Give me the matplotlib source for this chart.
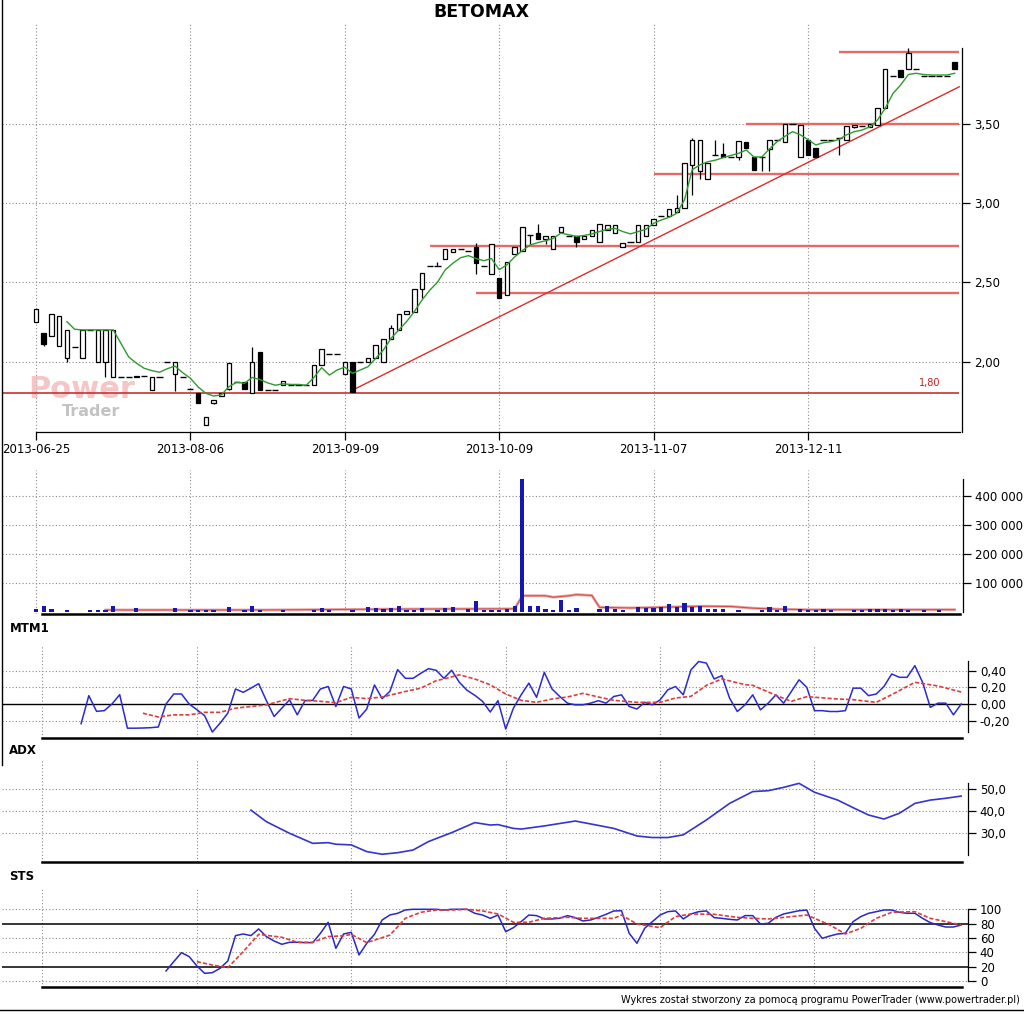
import matplotlib
matplotlib.use('Agg')
import matplotlib.pyplot as plt
from matplotlib.lines import Line2D

plt.rcParams['font.family'] = ['DejaVu Sans']

# ---------------- DATA ----------------
date_idx = [0, 20, 40, 60, 80, 100]
date_labels = ['2013-06-25', '2013-08-06', '2013-09-09', '2013-10-09', '2013-11-07', '2013-12-11']

opens = [2.25, 2.18, 2.16, 2.10, 2.02, 2.09, 2.02, 2.20, 2.00, 2.00,
         1.90, 1.90, 1.90, 1.91, 1.91, 1.82, 1.90, 2.00, 1.92, 1.90,
         1.83, 1.80, 1.60, 1.74, 1.78, 1.83, 1.87, 1.87, 1.80, 2.06,
         1.82, 1.82, 1.85, 1.85, 1.85, 1.85, 1.85, 1.98, 2.05, 2.05,
         1.92, 2.00, 2.00, 2.00, 2.02, 2.00, 2.14, 2.20, 2.30, 2.31,
         2.46, 2.60, 2.60, 2.65, 2.69, 2.71, 2.70, 2.72, 2.60, 2.55,
         2.53, 2.42, 2.68, 2.70, 2.80, 2.81, 2.77, 2.71, 2.82, 2.79,
         2.79, 2.77, 2.79, 2.756, 2.83, 2.81, 2.72, 2.756, 2.756, 2.79,
         2.86, 2.915, 2.92, 2.945, 2.967, 3.24, 3.20, 3.15, 3.30, 3.31,
         3.29, 3.29, 3.386, 3.29, 3.29, 3.34, 3.40, 3.387, 3.50, 3.29,
         3.40, 3.345, 3.395, 3.40, 3.41, 3.397, 3.48, 3.487, 3.48, 3.49,
         3.60, 3.80, 3.839, 3.843, 3.843, 3.80, 3.80, 3.80, 3.80, 3.887]
highs = [2.33, 2.18, 2.30, 2.29, 2.20, 2.09, 2.20, 2.20, 2.20, 2.20,
         2.20, 1.90, 1.90, 1.91, 1.91, 1.90, 1.90, 2.00, 2.00, 1.90,
         1.83, 1.80, 1.65, 1.76, 1.80, 1.99, 1.87, 1.87, 2.09, 2.06,
         1.82, 1.82, 1.88, 1.85, 1.85, 1.85, 1.98, 2.08, 2.05, 2.05,
         2.00, 2.00, 2.00, 2.02, 2.105, 2.14, 2.23, 2.30, 2.32, 2.46,
         2.56, 2.60, 2.63, 2.71, 2.71, 2.71, 2.70, 2.75, 2.60, 2.74,
         2.53, 2.63, 2.72, 2.85, 2.80, 2.87, 2.79, 2.79, 2.85, 2.79,
         2.79, 2.79, 2.83, 2.866, 2.86, 2.86, 2.746, 2.756, 2.86, 2.86,
         2.90, 2.915, 2.96, 3.05, 3.25, 3.41, 3.40, 3.25, 3.40, 3.38,
         3.29, 3.39, 3.386, 3.29, 3.29, 3.40, 3.40, 3.496, 3.50, 3.49,
         3.40, 3.345, 3.395, 3.40, 3.41, 3.487, 3.49, 3.487, 3.50, 3.60,
         3.843, 3.80, 3.839, 3.975, 3.843, 3.80, 3.80, 3.80, 3.80, 3.887]
lows = [2.25, 2.10, 2.16, 2.10, 2.00, 2.09, 2.02, 2.20, 2.00, 1.90,
        1.90, 1.90, 1.90, 1.90, 1.91, 1.82, 1.90, 2.00, 1.815, 1.90,
        1.83, 1.74, 1.60, 1.73, 1.78, 1.82, 1.87, 1.83, 1.80, 1.82,
        1.82, 1.82, 1.85, 1.85, 1.85, 1.85, 1.85, 1.98, 2.05, 2.05,
        1.92, 1.81, 2.00, 2.00, 2.02, 2.00, 2.14, 2.20, 2.30, 2.31,
        2.40, 2.60, 2.60, 2.65, 2.69, 2.71, 2.70, 2.55, 2.60, 2.55,
        2.40, 2.42, 2.68, 2.70, 2.74, 2.77, 2.74, 2.71, 2.82, 2.79,
        2.72, 2.77, 2.79, 2.756, 2.83, 2.81, 2.72, 2.756, 2.756, 2.79,
        2.86, 2.915, 2.92, 2.945, 2.967, 3.05, 3.15, 3.15, 3.30, 3.29,
        3.29, 3.27, 3.345, 3.21, 3.20, 3.20, 3.40, 3.387, 3.50, 3.29,
        3.30, 3.29, 3.395, 3.40, 3.30, 3.397, 3.47, 3.487, 3.48, 3.49,
        3.60, 3.80, 3.796, 3.843, 3.843, 3.80, 3.80, 3.80, 3.80, 3.843]
closes = [2.33, 2.11, 2.30, 2.29, 2.20, 2.09, 2.20, 2.20, 2.20, 2.20,
          2.20, 1.90, 1.90, 1.90, 1.91, 1.90, 1.90, 2.00, 2.00, 1.90,
          1.83, 1.74, 1.65, 1.76, 1.80, 1.99, 1.87, 1.83, 2.00, 1.82,
          1.82, 1.82, 1.88, 1.85, 1.85, 1.85, 1.98, 2.08, 2.05, 2.05,
          2.00, 1.81, 2.00, 2.02, 2.105, 2.14, 2.21, 2.30, 2.32, 2.46,
          2.56, 2.60, 2.60, 2.71, 2.71, 2.71, 2.70, 2.62, 2.60, 2.74,
          2.40, 2.63, 2.72, 2.85, 2.80, 2.77, 2.79, 2.79, 2.85, 2.79,
          2.756, 2.79, 2.83, 2.866, 2.86, 2.86, 2.746, 2.756, 2.86, 2.86,
          2.90, 2.915, 2.96, 2.967, 3.25, 3.40, 3.40, 3.25, 3.30, 3.29,
          3.29, 3.39, 3.345, 3.21, 3.29, 3.40, 3.40, 3.496, 3.50, 3.49,
          3.30, 3.29, 3.395, 3.40, 3.41, 3.487, 3.49, 3.487, 3.50, 3.60,
          3.843, 3.80, 3.796, 3.948, 3.843, 3.80, 3.80, 3.80, 3.80, 3.843]

ma_start = 4
ma_vals = [2.252, 2.204, 2.20, 2.20, 2.20, 2.20, 2.20, 2.115, 2.03, 1.99,
           1.958, 1.943, 1.933, 1.955, 1.972, 1.93, 1.895, 1.84, 1.80, 1.783,
           1.79, 1.842, 1.87, 1.863, 1.90, 1.887, 1.866, 1.851, 1.86, 1.856,
           1.856, 1.851, 1.90, 1.962, 1.915, 1.947, 1.965, 1.926, 1.947, 1.968,
           2.02, 2.073, 2.147, 2.20, 2.252, 2.315, 2.388, 2.45, 2.50, 2.578,
           2.62, 2.655, 2.668, 2.65, 2.636, 2.65, 2.58, 2.61, 2.66, 2.70,
           2.735, 2.75, 2.762, 2.777, 2.81, 2.80, 2.79, 2.795, 2.805, 2.82,
           2.834, 2.84, 2.82, 2.805, 2.82, 2.834, 2.872, 2.893, 2.91, 2.935,
           3.02, 3.21, 3.24, 3.26, 3.27, 3.286, 3.30, 3.313, 3.334, 3.29,
           3.29, 3.34, 3.387, 3.42, 3.45, 3.43, 3.40, 3.366, 3.38, 3.387,
           3.40, 3.43, 3.45, 3.46, 3.48, 3.523, 3.597, 3.69, 3.744, 3.81,
           3.818, 3.81, 3.807, 3.807, 3.807, 3.818]

level_vals = [1.80, 2.43, 2.73, 3.18, 3.50, 3.95]
level_from = [-4.7, 57, 51, 80, 92, 104]
level_to = 119.5
trend_idx = [41, 119.6]
trend_vals = [1.82, 3.733]

vol_idx = [0, 1, 2, 4, 7, 8, 9, 10, 13, 18,
           20, 21, 22, 23, 25, 27, 28, 29, 32, 36,
           37, 38, 41, 43, 44, 45, 46, 47, 48, 49,
           50, 52, 53, 54, 56, 57, 58, 59, 60, 61,
           62, 63, 64, 65, 66, 67, 68, 69, 70, 73,
           74, 75, 76, 78, 79, 80, 81, 82, 83, 84,
           85, 86, 87, 88, 89, 91, 94, 95, 96, 97,
           99, 100, 101, 102, 103, 106, 107, 108, 109, 110,
           111, 112, 113, 115, 117]
vol_k = [9, 20, 9, 8, 8, 8, 8, 20, 13, 13,
         8, 8, 8, 8, 17, 8, 20, 8, 8, 8,
         13, 8, 8, 17, 13, 10, 13, 20, 8, 8,
         13, 8, 13, 17, 10, 37, 8, 8, 8, 10,
         20, 460, 22, 20, 10, 8, 40, 8, 14, 10,
         20, 10, 8, 16, 14, 14, 17, 28, 16, 31,
         17, 22, 10, 10, 10, 8, 8, 16, 8, 20,
         10, 8, 8, 10, 8, 8, 8, 10, 10, 10,
         8, 10, 8, 8, 8]
vol_ma_idx = [9, 30, 46, 62, 63, 66, 67, 69, 70, 72, 73, 77, 82, 86, 90, 93, 96, 100, 119]
vol_ma_k = [7, 7, 10, 11, 56, 56, 51, 56, 60, 57, 16, 14, 17, 20, 19, 13, 10, 8, 8]
vol_ticks = [100000, 200000, 300000, 400000]

mtm_start = 5
mtm_vals = [-0.236, 0.10, -0.088, -0.08, 0.0, 0.112, -0.29, -0.29, -0.288, -0.284,
            -0.276, 0.0, 0.12, 0.12, 0.0, -0.068, -0.14, -0.336, -0.23, -0.11,
            0.18, 0.14, 0.19, 0.244, 0.04, -0.15, -0.05, 0.05, -0.13, 0.04,
            0.044, 0.18, 0.21, -0.03, 0.21, 0.18, -0.168, -0.06, 0.228, 0.064,
            0.152, 0.412, 0.308, 0.308, 0.368, 0.424, 0.404, 0.308, 0.404, 0.26,
            0.164, 0.104, 0.032, -0.096, 0.04, -0.30, -0.05, 0.11, 0.25, 0.08,
            0.38, 0.18, 0.09, 0.01, -0.01, -0.01, 0.01, 0.04, 0.01, 0.09,
            0.11, -0.03, -0.06, 0.02, -0.01, 0.05, 0.17, 0.21, 0.11, 0.41,
            0.51, 0.49, 0.30, 0.34, 0.07, -0.09, -0.01, 0.11, -0.07, 0.01,
            0.11, 0.01, 0.15, 0.29, 0.20, -0.08, -0.08, -0.09, -0.09, -0.08,
            0.19, 0.19, 0.10, 0.12, 0.21, 0.36, 0.32, 0.32, 0.46, 0.26,
            -0.04, 0.01, 0.01, -0.13, 0.0]
mtm_sig_idx = [13, 15, 17, 19, 21, 23, 25, 27, 29, 32, 34, 36, 38, 40, 42, 44, 47, 49,
               51, 52, 54, 56, 58, 60, 62, 64, 66, 68, 70, 72, 74, 77, 80, 82, 84, 86,
               88, 91, 92, 95, 97, 99, 103, 105, 108, 110, 113, 116, 119]
mtm_sig = [-0.11, -0.156, -0.13, -0.13, -0.10, -0.10, -0.05, -0.03, -0.01, 0.064, 0.044, 0.032,
           0.016, 0.08, 0.064, 0.084, 0.15, 0.19, 0.28, 0.30, 0.35, 0.30, 0.23, 0.12,
           0.044, 0.02, 0.06, 0.084, 0.128, 0.084, 0.044, 0.02, 0.02, 0.072, 0.092, 0.224,
           0.30, 0.232, 0.224, 0.104, 0.032, 0.088, 0.06, 0.052, 0.02, 0.112, 0.26, 0.216, 0.144]
mtm_ticks = [-0.20, 0.0, 0.20, 0.40]

adx_idx = [27, 29, 32, 35, 37, 38, 40, 42, 44, 46, 48, 50, 53, 56, 58, 59, 61, 62, 65, 69,
           71, 74, 77, 79, 81, 83, 86, 89, 92, 94, 96, 98, 100, 103, 105, 107, 109, 111,
           113, 115, 117, 119]
adx_vals = [40.4, 35.2, 30.0, 25.5, 25.8, 25.1, 24.8, 21.8, 20.6, 21.3, 22.5, 26.3, 30.3,
            34.8, 33.7, 33.9, 32.2, 31.9, 33.3, 35.5, 34.2, 32.2, 28.8, 28.1, 28.1, 29.3,
            36.0, 43.4, 48.7, 49.1, 50.6, 52.4, 48.4, 44.9, 41.5, 38.2, 36.4, 39.0, 43.4,
            44.9, 45.7, 46.7]
adx_ticks = [30, 40, 50]

sts_start = 16
sts_vals = [14, 27, 39.5, 34, 21, 10.7, 11.6, 17.7, 27.9, 63.3,
            65.6, 63.3, 72.6, 61.9, 55.8, 51.2, 54, 54, 53.5, 53.5,
            66.5, 81.9, 45.6, 65.6, 67.9, 36.3, 52.6, 65.1, 85.1, 92.1,
            94.4, 99.1, 100, 100, 100, 100, 99, 100, 100, 100,
            94.4, 92, 87.4, 92, 68.8, 74.4, 82.8, 92, 91.2, 86.5,
            86.5, 87.5, 91.2, 88.4, 83.7, 85.1, 88.8, 93, 97.7, 98,
            66.5, 52.6, 73.5, 82.8, 92, 96.7, 97.7, 86.5, 93.5, 96.7,
            97.7, 88.4, 87.4, 86, 85.1, 91.2, 91.2, 79.5, 80.5, 88.8,
            93.5, 95.8, 98, 99, 73.5, 59.5, 62.8, 65.6, 66.5, 82.8,
            89.8, 94.4, 96.7, 99, 99, 95.8, 94.4, 94.4, 87.4, 81.4,
            78.1, 75.3, 75.3, 78.1]
sts_sig_idx = [20, 22, 24, 26, 28, 31, 33, 35, 37, 39, 40, 42, 45, 47, 49, 51, 53, 55, 57, 59,
               61, 63, 65, 68, 70, 72, 74, 75, 77, 80, 82, 84, 87, 90, 92, 94, 97, 99, 102,
               104, 106, 108, 110, 113, 115, 117, 119]
sts_sig = [27, 22.3, 18.6, 41, 65, 61, 54, 54, 62, 63, 65, 53.5, 64, 87.4, 95.8, 99, 99, 100,
           97.7, 93.5, 81.9, 81.9, 87.4, 88.8, 87.4, 87.4, 87.4, 92, 79.5, 74.4, 89.8, 93.5,
           93, 88.8, 87.4, 86.5, 89.8, 92, 78.1, 65.6, 73.5, 87.4, 95.8, 96.7, 87.4, 82.8, 78.1]
sts_ticks = [0, 20, 40, 60, 80, 100]

# ---------------- LAYOUT ----------------
W, H, DPI = 1024, 1014, 100
fig = plt.figure(figsize=(W / DPI, H / DPI), dpi=DPI)
fig.patch.set_facecolor('white')

STEP = 7.72
MX0 = 36.0    # pixel of bar 0 (price & volume)
LX0 = 42.5    # pixel of bar 0 (indicator panels)
GRID = dict(color='#8a8a8a', lw=0.8, ls=(0, (1, 2)))
TFS = 8.5


def rect(x0, y0, x1, y1):
    return [x0 / W, 1 - y1 / H, (x1 - x0) / W, (y1 - y0) / H]


def px2v(y, yref, vref, ppu):
    return vref - (y - yref) / ppu


def base(ax, x0px, lpx, rpx, ylo, yhi, sp_lo, sp_hi, b_from, b_to, b_lw):
    ax.set_xlim((lpx - x0px) / STEP, (rpx - x0px) / STEP)
    ax.set_ylim(ylo, yhi)
    ax.set_facecolor('none')
    ax.spines['top'].set_visible(False)
    ax.spines['left'].set_visible(False)
    ax.spines['right'].set_bounds(sp_lo, sp_hi)
    ax.spines['right'].set_linewidth(0.9)
    ax.spines['bottom'].set_bounds((b_from - x0px) / STEP, (b_to - x0px) / STEP)
    ax.spines['bottom'].set_linewidth(b_lw)
    ax.yaxis.tick_right()
    ax.tick_params(axis='y', direction='out', length=5.5, width=0.9, labelsize=TFS, pad=3)
    for i in date_idx:
        ax.axvline(i, zorder=0, **GRID)


# ---- main price panel ----
K = 158.6
ax = fig.add_axes(rect(2, 22, 962, 432))
base(ax, MX0, 2, 962, px2v(432, 203, 3.0, K), px2v(22, 203, 3.0, K),
     px2v(432, 203, 3.0, K), px2v(48, 203, 3.0, K), MX0, 960, 0.9)
price_ticks = [2.0, 2.5, 3.0, 3.5]
ax.set_yticks(price_ticks)
ax.set_yticklabels([f'{v:.2f}'.replace('.', ',') for v in price_ticks])
for v in price_ticks:
    ax.axhline(v, zorder=0, **GRID)
ax.set_xticks(date_idx)
ax.set_xticklabels(date_labels, fontsize=TFS)
ax.tick_params(axis='x', direction='out', length=6, width=0.9, pad=2)

# support / resistance lines
for lv, fr in zip(level_vals, level_from):
    if lv == level_vals[0]:
        ax.hlines(lv, fr, level_to, color='#c83232', lw=1.2, zorder=2)
    else:
        ax.hlines(lv, fr, level_to, color='#e46a6a', lw=1.7, zorder=2)
ax.plot(trend_idx, trend_vals, color='#e02a2a', lw=1.0, zorder=2)
ax.text(level_to - 2.3, level_vals[0] + 0.035, '1,80', color='#c02020', fontsize=7,
        ha='right', va='bottom', zorder=5)

# candles
n = len(closes)
xs = list(range(n))
ax.vlines(xs, lows, highs, color='black', lw=0.9, zorder=3)
for i in xs:
    o, c = opens[i], closes[i]
    if abs(c - o) < 0.004:
        ax.hlines(c, i - 0.4, i + 0.4, color='black', lw=1.0, zorder=4)
    else:
        fc = 'white' if c > o else 'black'
        ax.bar(i, abs(c - o), bottom=min(o, c), width=0.58, color=fc,
               edgecolor='black', lw=0.9, zorder=4)

ax.plot(range(ma_start, ma_start + len(ma_vals)), ma_vals, color='#2f9a2f', lw=1.0, zorder=5)

# watermark
ax.text(28 / W, 1 - 398 / H, 'Power', transform=fig.transFigure, fontsize=22, fontweight='bold',
        color='#f3b4b4', alpha=0.75, ha='left', va='baseline', zorder=0.5)
ax.text(62 / W, 1 - 404 / H, 'Trader', transform=fig.transFigure, fontsize=11.5, fontweight='bold',
        color='#b4b4b4', alpha=0.8, ha='left', va='top', zorder=0.5)

# ---- volume panel ----
VK = 29.0 / 100000.0
axv = fig.add_axes(rect(2, 470, 963, 614))
base(axv, MX0, 2, 963, -2 / VK, (612 - 470) / VK, 0, (612 - 479) / VK, 42, 960, 1.8)
axv.set_xticks([])
axv.set_yticks(vol_ticks)
axv.set_yticklabels([f'{v:,}'.replace(',', ' ') for v in vol_ticks])
for v in vol_ticks:
    axv.axhline(v, zorder=0, **GRID)
axv.plot(vol_ma_idx, [v * 1000 for v in vol_ma_k], color='#eaa2a2', lw=2.0, zorder=3)
axv.plot(vol_ma_idx, [v * 1000 for v in vol_ma_k], color='#d04848', lw=0.7, zorder=3)
axv.bar(vol_idx, [v * 1000 for v in vol_k], width=0.55, color='#1616b0', zorder=4)

# ---- MTM panel ----
MK = 83.4
axm = fig.add_axes(rect(2, 645, 968, 738))
base(axm, LX0, 2, 968, px2v(738, 704, 0, MK), px2v(645, 704, 0, MK),
     px2v(732, 704, 0, MK), px2v(661, 704, 0, MK), 42, 962, 1.8)
axm.set_xticks([])
axm.set_yticks(mtm_ticks)
axm.set_yticklabels([f'{v:.2f}'.replace('.', ',') for v in mtm_ticks])
for v in mtm_ticks:
    if v == 0:
        axm.axhline(v, color='black', lw=1.0, zorder=1)
    else:
        axm.axhline(v, zorder=0, **GRID)
axm.plot(range(mtm_start, mtm_start + len(mtm_vals)), mtm_vals, color='#2a2ad2', lw=1.1, zorder=3)
axm.plot(mtm_sig_idx, mtm_sig, color='#e03c3c', lw=1.2, ls=(0, (2.5, 1.2)), zorder=4)

# ---- ADX panel ----
AK = 2.23
axa = fig.add_axes(rect(2, 760, 968, 862))
base(axa, LX0, 2, 968, px2v(862, 788.7, 50, AK), px2v(760, 788.7, 50, AK),
     px2v(855, 788.7, 50, AK), px2v(783, 788.7, 50, AK), 42, 962, 1.8)
axa.set_xticks([])
axa.set_yticks(adx_ticks)
axa.set_yticklabels([f'{v:.1f}'.replace('.', ',') for v in adx_ticks])
for v in adx_ticks:
    axa.axhline(v, zorder=0, **GRID)
axa.plot(adx_idx, adx_vals, color='#3434d0', lw=1.2, zorder=3)

# ---- STS panel ----
SK = 0.717
axs = fig.add_axes(rect(2, 888, 968, 987))
base(axs, LX0, 2, 968, px2v(987, 981, 0, SK), px2v(888, 981, 0, SK), 0, 100, 42, 962, 1.8)
axs.set_xticks([])
axs.set_yticks(sts_ticks)
axs.set_yticklabels([str(v) for v in sts_ticks])
for v in sts_ticks:
    if v in (20, 80):
        axs.axhline(v, color='black', lw=1.1, zorder=1)
    else:
        axs.axhline(v, zorder=0, **GRID)
axs.plot(range(sts_start, sts_start + len(sts_vals)), sts_vals, color='#2828c8', lw=1.1, zorder=3)
axs.plot(sts_sig_idx, sts_sig, color='#e03c3c', lw=1.2, ls=(0, (2.5, 1.2)), zorder=4)

# ---- texts & frame lines ----
fig.text(481 / W, 1 - 12 / H, 'BETOMAX', ha='center', va='center', fontsize=12.5, fontweight='bold')
fig.text(10 / W, 1 - 628 / H, 'MTM1', ha='left', va='center', fontsize=8.5, fontweight='bold')
fig.text(9 / W, 1 - 750 / H, 'ADX', ha='left', va='center', fontsize=8.5, fontweight='bold')
fig.text(9 / W, 1 - 876 / H, 'STS', ha='left', va='center', fontsize=8.5, fontweight='bold')
fig.text(1020 / W, 1 - 1000 / H,
         'Wykres został stworzony za pomocą programu PowerTrader (www.powertrader.pl)',
         ha='right', va='center', fontsize=7)
fig.add_artist(Line2D([1.5 / W, 1.5 / W], [1, 1 - 765 / H], color='black', lw=1.0,
                      transform=fig.transFigure))
fig.add_artist(Line2D([0, 1], [1 - 1010 / H, 1 - 1010 / H], color='black', lw=1.0,
                      transform=fig.transFigure))

fig.savefig('out.png', dpi=DPI, facecolor='white')
